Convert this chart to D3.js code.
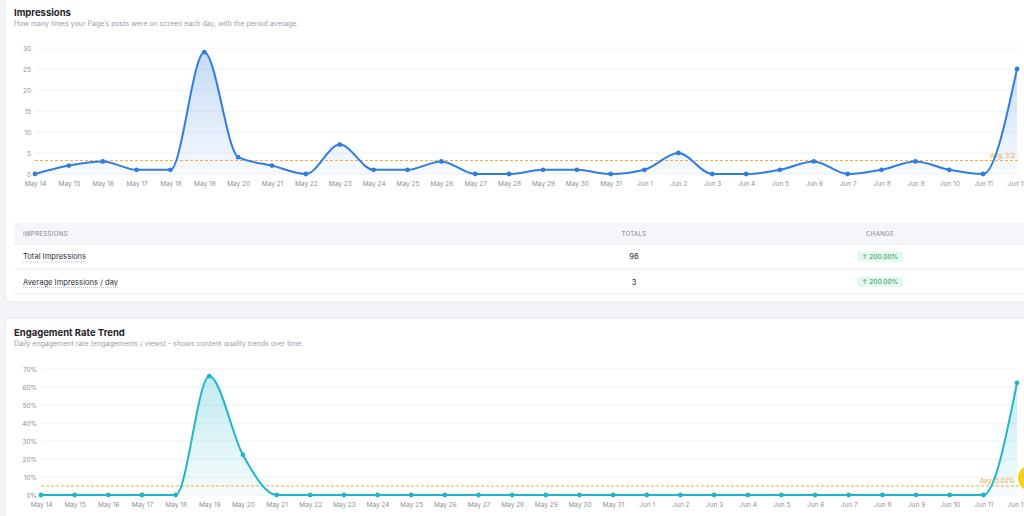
<!DOCTYPE html>
<html>
<head>
<meta charset="utf-8">
<script src="https://cdn.jsdelivr.net/npm/d3@7"></script>
<style>
  html, body { margin:0; padding:0; background:#f3f5f8; }
  svg { display:block; font-family: Inter, "Noto Sans", sans-serif; }
  .tick text { fill:#8a8f98; }
</style>
</head>
<body>
<svg id="page" width="1024" height="516"></svg>
<script>
// data
var days = ["May 14","May 15","May 16","May 17","May 18","May 19","May 20","May 21","May 22","May 23",
  "May 24","May 25","May 26","May 27","May 28","May 29","May 30","May 31","Jun 1","Jun 2",
  "Jun 3","Jun 4","Jun 5","Jun 6","Jun 7","Jun 8","Jun 9","Jun 10","Jun 11","Jun 12"];
var impressions = [0,2,3,1,1,29,4,2,0,7,1,1,3,0,0,1,1,0,1,5,0,0,1,3,0,1,3,1,0,25];
var impTicks = [0,5,10,15,20,25,30];
var engagementRate = [0,0,0,0,0,66.0,22.3,0,0,0,0,0,0,0,0,0,0,0,0,0,0,0,0,0,0,0,0,0,0,62.3];
var rateTicks = [0,10,20,30,40,50,60,70];
var impAvg = 3.2;
var rateAvg = 5.02;
var tableRows = [
  {label:"Total Impressions", total:"96", change:"200.00%"},
  {label:"Average Impressions / day", total:"3", change:"200.00%"}
];

var svg = d3.select("#page");
var defs = svg.append("defs");

function grad(id, color){
  var g = defs.append("linearGradient").attr("id", id).attr("x1",0).attr("y1",0).attr("x2",0).attr("y2",1);
  g.append("stop").attr("offset","0%").attr("stop-color",color).attr("stop-opacity",0.28);
  g.append("stop").attr("offset","100%").attr("stop-color",color).attr("stop-opacity",0.04);
}
grad("gBlue","#2f7de1");
grad("gTeal","#1fb6c9");

// cards
svg.append("rect").attr({}); // noop
svg.append("rect").attr("x",5).attr("y",-10).attr("width",1030).attr("height",312).attr("rx",6)
  .attr("fill","#fff").attr("stroke","#e4e7ec");
svg.append("rect").attr("x",5).attr("y",318).attr("width",1030).attr("height",220).attr("rx",6)
  .attr("fill","#fff").attr("stroke","#e4e7ec");

function header(y, title, sub){
  svg.append("text").attr("x",14).attr("y",y).attr("font-size",9.5).attr("font-weight",700)
    .attr("fill","#1f2329").text(title);
  svg.append("text").attr("x",14).attr("y",y+10).attr("font-size",7).attr("fill","#9aa0a8").text(sub);
}
header(15.5, "Impressions", "How many times your Page\u2019s posts were on screen each day, with the period average.");
header(335.5, "Engagement Rate Trend", "Daily engagement rate (engagements / views) - shows content quality trends over time.");

function lineChart(o){
  var x = d3.scalePoint().domain(days).range([o.x0, o.x1]);
  var y = d3.scaleLinear().domain([0, o.max]).range([o.yb, o.yt]);
  var g = svg.append("g");

  // grid
  g.selectAll("line.grid").data(o.ticks).enter().append("line")
    .attr("class","grid")
    .attr("x1", o.x0).attr("x2", 1020)
    .attr("y1", function(d){return y(d);}).attr("y2", function(d){return y(d);})
    .attr("stroke","#f1f2f4").attr("stroke-width",1);

  // y axis
  var ya = g.append("g").attr("transform","translate(" + (o.x0 - 4) + ",0)")
    .call(d3.axisLeft(y).tickValues(o.ticks).tickSize(0).tickPadding(0).tickFormat(o.fmt));
  ya.select(".domain").remove();
  ya.selectAll("text").attr("font-size",6.5).attr("font-family","Inter, sans-serif");

  // x axis
  var xa = g.append("g").attr("transform","translate(0," + (o.yb + 4) + ")")
    .call(d3.axisBottom(x).tickSize(0).tickPadding(3));
  xa.select(".domain").remove();
  xa.selectAll("text").attr("font-size",6.5).attr("font-family","Inter, sans-serif");

  var area = d3.area().x(function(d,i){return x(days[i]);}).y0(o.yb).y1(function(d){return y(d);})
    .curve(d3.curveMonotoneX);
  var line = d3.line().x(function(d,i){return x(days[i]);}).y(function(d){return y(d);})
    .curve(d3.curveMonotoneX);

  g.append("path").datum(o.values).attr("d", area).attr("fill","url(#" + o.grad + ")");

  // average line
  g.append("line").attr("x1", o.x0).attr("x2", 1020).attr("y1", y(o.avg)).attr("y2", y(o.avg))
    .attr("stroke","#f4a93a").attr("stroke-width",1).attr("stroke-dasharray","3,2");
  g.append("text").attr("x",1015).attr("y", y(o.avg) - 3).attr("text-anchor","end")
    .attr("font-size",6.5).attr("fill","#f0a43a").text(o.avgLabel);

  g.append("path").datum(o.values).attr("d", line).attr("fill","none")
    .attr("stroke", o.color).attr("stroke-width",2);

  g.selectAll("circle").data(o.values).enter().append("circle")
    .attr("cx", function(d,i){return x(days[i]);})
    .attr("cy", function(d){return y(d);})
    .attr("r", 2.4).attr("fill", o.color);
}

lineChart({x0:35, x1:1017, yb:174, yt:48, max:30, ticks:impTicks, values:impressions,
  color:"#2f7de1", grad:"gBlue", avg:impAvg, avgLabel:"Avg: " + impAvg,
  fmt:function(d){return d;}});

lineChart({x0:41, x1:1017, yb:495, yt:369, max:70, ticks:rateTicks, values:engagementRate,
  color:"#1fb6c9", grad:"gTeal", avg:rateAvg, avgLabel:"Avg: " + rateAvg.toFixed(2) + "%",
  fmt:function(d){return d + "%";}});

// table
var tb = svg.append("g");
tb.append("rect").attr("x",14).attr("y",223).attr("width",1015).attr("height",21).attr("fill","#f5f6f9");
[244, 269, 294].forEach(function(yy){
  tb.append("line").attr("x1",14).attr("x2",1024).attr("y1",yy).attr("y2",yy).attr("stroke","#e8eaee");
});
tb.append("text").attr("x",23).attr("y",235.5).attr("font-size",6).attr("fill","#7d838c")
  .attr("letter-spacing",0.4).text("IMPRESSIONS");
tb.append("text").attr("x",634).attr("y",235.5).attr("text-anchor","middle").attr("font-size",6)
  .attr("fill","#7d838c").attr("letter-spacing",0.4).text("TOTALS");
tb.append("text").attr("x",880).attr("y",235.5).attr("text-anchor","middle").attr("font-size",6)
  .attr("fill","#7d838c").attr("letter-spacing",0.4).text("CHANGE");

var rows = tb.selectAll("g.row").data(tableRows).enter().append("g").attr("class","row")
  .attr("transform", function(d,i){return "translate(0," + (256.5 + i*25.5) + ")";});
rows.append("text").attr("x",23).attr("y",2.5).attr("font-size",7.6).attr("fill","#2c3036")
  .text(function(d){return d.label;})
  .each(function(){
    var w = this.getComputedTextLength();
    d3.select(this.parentNode).append("line").attr("x1",23).attr("x2",23+w).attr("y1",5.5).attr("y2",5.5)
      .attr("stroke","#9aa0a8").attr("stroke-width",0.6).attr("stroke-dasharray","1,1");
  });
rows.append("text").attr("x",634).attr("y",2.5).attr("text-anchor","middle").attr("font-size",7.6)
  .attr("fill","#2c3036").text(function(d){return d.total;});
rows.append("rect").attr("x",857).attr("y",-5).attr("width",46).attr("height",10).attr("rx",3)
  .attr("fill","#e6f7ee");
rows.append("text").attr("x",880).attr("y",2.3).attr("text-anchor","middle").attr("font-size",6.6)
  .attr("fill","#1e9b5c").text(function(d){return "\u2191 " + d.change;});

// floating widget at the corner
svg.append("circle").attr("cx",1031).attr("cy",478).attr("r",13).attr("fill","#f7cf1e");
svg.append("circle").attr("cx",1031).attr("cy",478).attr("r",7).attr("fill","#3a3320");
</script>
</body>
</html>
